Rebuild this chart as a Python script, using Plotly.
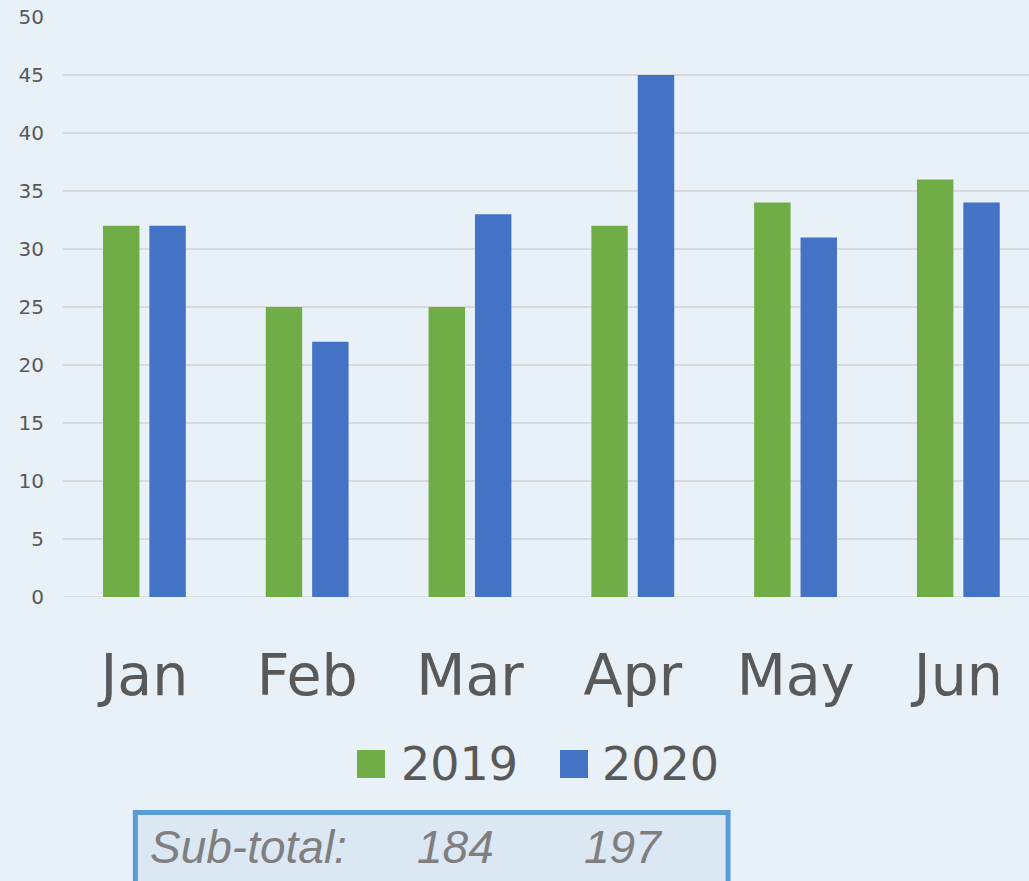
import plotly.graph_objects as go

# monthly values
months = ['Jan', 'Feb', 'Mar', 'Apr', 'May', 'Jun']
sales_2019 = [32, 25, 25, 32, 34, 36]
sales_2020 = [32, 22, 33, 45, 31, 34]
series_names = ['2019', '2020']
y_ticks = [0, 5, 10, 15, 20, 25, 30, 35, 40, 45, 50]

green = '#70AD47'
blue = '#4472C4'
grey_text = '#595959'

fig = go.Figure()
fig.add_trace(go.Bar(x=months, y=sales_2019, name=series_names[0], marker=dict(color=green, line=dict(width=0))))
fig.add_trace(go.Bar(x=months, y=sales_2020, name=series_names[1], marker=dict(color=blue, line=dict(width=0))))

fig.update_layout(
    width=1029, height=881,
    margin=dict(l=63, r=0, t=17, b=284),
    paper_bgcolor='#E8F0F8',
    plot_bgcolor='#E8F0F8',
    barmode='group',
    bargap=0.43,
    bargroupgap=0.215,
    showlegend=False,
    font=dict(family='DejaVu Sans', color=grey_text),
)

fig.update_yaxes(
    range=[0, 50], tickvals=y_ticks, showgrid=True, gridcolor='#D9D9D9', gridwidth=1.5,
    zeroline=False, showline=False, tickfont=dict(size=20, color=grey_text),
    ticklabelstandoff=18,
)
# the original chart runs a little past the right edge of the picture
fig.update_xaxes(
    range=[-0.5, 5.434], showline=False, tickfont=dict(size=57, color=grey_text), ticklabelstandoff=40,
)

# zero line drawn as a shape so it sits under the bars like the gridlines
fig.add_shape(type='line', xref='paper', yref='y', x0=0, x1=1, y0=0, y1=0,
              line=dict(color='#D9D9D9', width=1.5), layer='below')

# legend drawn by hand so the swatches can be big
swatch_x = [0.3043, 0.5145]
label_x = [0.3478, 0.5559]
for name, color, sx, lx in zip(series_names, [green, blue], swatch_x, label_x):
    fig.add_shape(type='rect', xref='paper', yref='paper', x0=sx, x1=sx + 0.029,
                  y0=-0.3121, y1=-0.2638, fillcolor=color, line=dict(width=0))
    fig.add_annotation(xref='paper', yref='paper', x=lx, y=-0.288, text=name, showarrow=False,
                       xanchor='left', yanchor='middle', font=dict(size=46, color=grey_text))

# sub-total box
fig.add_shape(type='rect', xref='paper', yref='paper', x0=0.0749, x1=0.6885, y0=-0.52, y1=-0.3716,
              fillcolor='#DCE7F4', line=dict(color='#5B9BD5', width=5))
sub_font = dict(family='Liberation Sans', size=46, color='#7F7F7F', style='italic')
fig.add_annotation(xref='paper', yref='paper', x=0.088, y=-0.431, text='Sub-total:', showarrow=False,
                   xanchor='left', yanchor='middle', font=sub_font)
for total, tx in zip([sum(sales_2019), sum(sales_2020)], [0.3644, 0.5373]):
    fig.add_annotation(xref='paper', yref='paper', x=tx, y=-0.431, text=str(total), showarrow=False,
                       xanchor='left', yanchor='middle', font=sub_font)

# page has a default 8px body margin, drop it so the figure fills the window
fig.write_html('out.html', config={'displayModeBar': False},
               post_script="document.body.style.margin='0';document.body.style.overflow='hidden';")
